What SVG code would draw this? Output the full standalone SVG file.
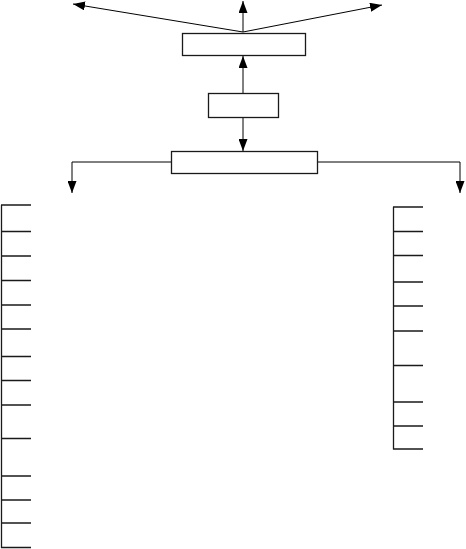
<svg xmlns="http://www.w3.org/2000/svg" width="466" height="549" viewBox="0 0 466 549">
<style>
.box{fill:#fff;stroke:#1a1a1a;stroke-width:1.3}
.conn{fill:none;stroke:#000;stroke-width:1}
.br{fill:none;stroke:#1a1a1a;stroke-width:1.3}
</style>
<defs>
<marker id="ah" markerUnits="userSpaceOnUse" markerWidth="12" markerHeight="9" refX="12" refY="4.5" orient="auto" viewBox="0 0 12 9">
<path d="M0,0 L12,4.5 L0,9 Z" fill="#000"/>
</marker>
</defs>
<rect width="466" height="549" fill="#fff"/>
<g id="connectors">
<line class="conn" x1="243" y1="32" x2="73" y2="4" marker-end="url(#ah)"/>
<line class="conn" x1="243" y1="32" x2="243" y2="1" marker-end="url(#ah)"/>
<line class="conn" x1="243" y1="32" x2="382" y2="5" marker-end="url(#ah)"/>
<line class="conn" x1="243" y1="94" x2="243" y2="56" marker-end="url(#ah)"/>
<line class="conn" x1="243" y1="117" x2="243" y2="151" marker-end="url(#ah)"/>
<polyline class="conn" points="171,162 72,162 72,193" marker-end="url(#ah)"/>
<polyline class="conn" points="318,162 460,162 460,193" marker-end="url(#ah)"/>
</g>
<g id="node-top"><rect class="box" x="182.5" y="33.5" width="123" height="22"/></g>
<g id="node-middle"><rect class="box" x="208.5" y="93.5" width="70" height="24"/></g>
<g id="node-bottom"><rect class="box" x="171.5" y="151.5" width="146" height="22"/></g>
<g id="left-list">
<path class="br" d="M1.5,205 V548 M1,205 H31 M1,231.5 H31 M1,256 H31 M1,280.5 H31 M1,305 H31 M1,329 H31 M1,356.5 H31 M1,380.5 H31 M1,405 H31 M1,438.5 H31 M1,476 H31 M1,500 H31 M1,523 H31 M1,547.5 H31"/>
</g>
<g id="right-list">
<path class="br" d="M393.5,207 V449.5 M393,207 H423 M393,231.5 H423 M393,255.5 H423 M393,282 H423 M393,306 H423 M393,331 H423 M393,365.5 H423 M393,402 H423 M393,426 H423 M393,449 H423"/>
</g>
</svg>
